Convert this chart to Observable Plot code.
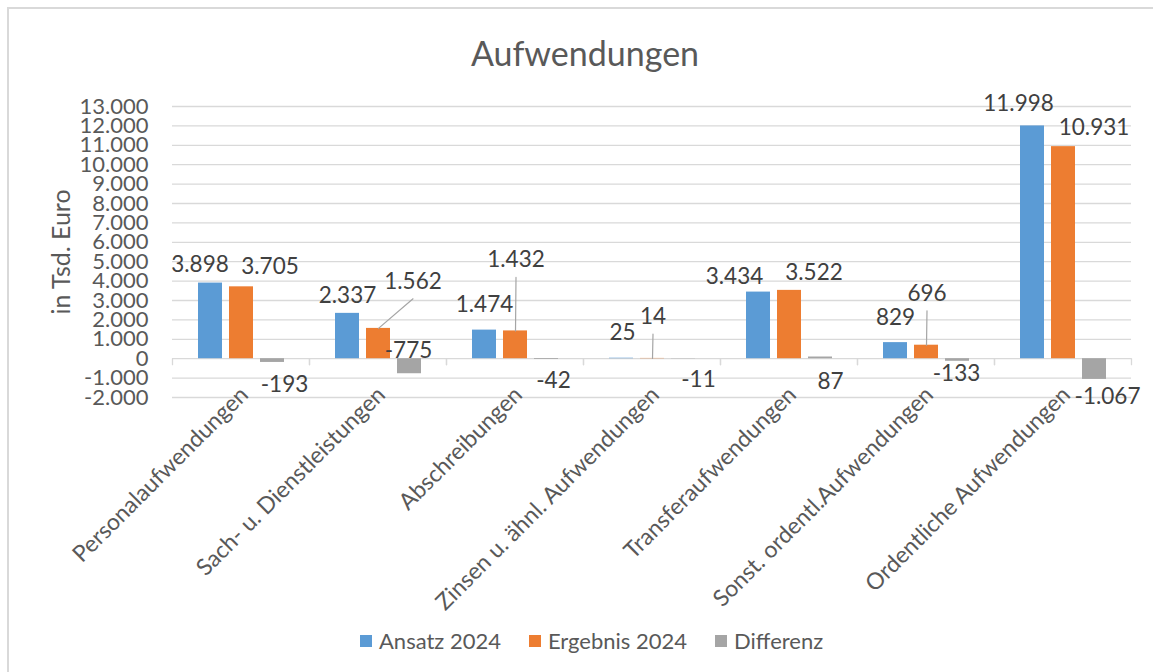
<!DOCTYPE html>
<html><head><meta charset="utf-8">
<script src="https://cdn.jsdelivr.net/npm/d3@7"></script>
<script src="https://cdn.jsdelivr.net/npm/@observablehq/plot@0.6"></script>
<style>
body{margin:0;background:#fff;font-family:Lato,sans-serif;}
#wrap{position:relative;width:1153px;height:672px;overflow:hidden;background:#fff;}
#frame{position:absolute;left:7px;top:7px;width:1170px;height:700px;border-left:2px solid #d9d9d9;border-top:2px solid #d9d9d9;}
#title{position:absolute;left:0;width:1170px;top:36px;text-align:center;font-size:34px;line-height:34px;color:#595959;}
#ylab{position:absolute;left:60px;top:252px;transform:translate(-50%,-50%) rotate(-90deg);font-size:25px;color:#595959;white-space:nowrap;}
#chart{position:absolute;left:0;top:0;}
#legend{position:absolute;left:360px;top:628px;display:flex;gap:28px;font-size:22px;color:#595959;line-height:26px;}
#legend .item{display:flex;align-items:center;gap:7px;}
#legend .sw{width:12px;height:12px;display:inline-block;}
</style></head>
<body><div id="wrap">
<div id="frame"></div>
<div id="title">Aufwendungen</div>
<div id="chart"></div>
<div id="ylab">in Tsd. Euro</div>
<div id="legend"></div>
</div>
<script>
const categories = ["Personalaufwendungen","Sach- u. Dienstleistungen","Abschreibungen","Zinsen u. ähnl. Aufwendungen","Transferaufwendungen","Sonst. ordentl.Aufwendungen","Ordentliche Aufwendungen"];
const seriesNames = ["Ansatz 2024","Ergebnis 2024","Differenz"];
const ansatz = [3898, 2337, 1474, 25, 3434, 829, 11998];
const ergebnis = [3705, 1562, 1432, 14, 3522, 696, 10931];
const differenz = [-193, -775, -42, -11, 87, -133, -1067];
const colors = ["#5b9bd5","#ed7d31","#a5a5a5"];
const yTicks = d3.range(-2000, 13001, 1000);

// manual data-label nudges (px) as placed in the original chart
const ansatzNudge = [[-10.5,-10.7],[0,-10],[0,-18.6],[1,-18],[-24,-8],[0,-17.8],[-14,-15.4]];
const ergebnisNudge = [[28.5,-12.8],[34.5,-39.6],[0.5,-63.5],[0.5,-34.3],[24.5,-10.3],[0.5,-44.4],[30.5,-12]];
const differenzNudge = [[12,30],[-1,-16],[7,28.3],[15,27.9],[10,32],[-1,19.5],[13,24.7]];
const ergebnisLeaders = [1, 2, 3, 5];

const de = d3.formatLocale({decimal: ",", thousands: ".", grouping: [3], currency: ["", "€"], minus: "-"});
const fmt = de.format(",d");

const seriesValues = [ansatz, ergebnis, differenz];
const nudges = [ansatzNudge, ergebnisNudge, differenzNudge];
const rows = [];
categories.forEach((c, i) => seriesValues.forEach((vals, s) => {
  rows.push({cat: c, series: seriesNames[s], value: vals[i], nudge: nudges[s][i], leader: s === 1 && ergebnisLeaders.includes(i)});
}));

const lineShape = {draw(context, l) { context.moveTo(0, 0); context.lineTo(0, -l); }};

const labelMarks = rows.map(r => Plot.text([r], {
  fx: "cat", x: "series", y: "value", text: d => fmt(d.value),
  textAnchor: "middle", lineAnchor: "bottom", dx: r.nudge[0], dy: r.nudge[1],
  fill: "#404040", fontSize: 22.5
}));
const leaderMarks = rows.filter(r => r.leader).map(r => {
  const ex = r.nudge[0], ey = r.nudge[1] + 10;
  return Plot.vector([r], {
    fx: "cat", x: "series", y: "value", anchor: "start",
    length: Math.hypot(ex, ey), rotate: Math.atan2(ex, -ey) * 180 / Math.PI,
    stroke: "#a5a5a5", strokeWidth: 1.2, shape: lineShape
  });
});

const plot = Plot.plot({
  width: 1153, height: 600,
  marginTop: 106, marginBottom: 203, marginLeft: 172, marginRight: 22,
  style: {fontFamily: "Lato, sans-serif", fontSize: "22px", color: "#595959", background: "transparent", overflow: "visible"},
  fx: {domain: categories, padding: 0, axis: null},
  x: {domain: seriesNames, paddingInner: 0.23, paddingOuter: 0.82, axis: null},
  y: {domain: [-2000, 13000], axis: null},
  color: {domain: seriesNames, range: colors},
  marks: [
    Plot.gridY({ticks: yTicks, stroke: "#d9d9d9", strokeOpacity: 1, strokeWidth: 1.3}),
    Plot.axisY({ticks: yTicks, tickFormat: fmt, tickSize: 0, tickPadding: 24, fontSize: 22, fill: "#595959", label: null}),
    Plot.vector([0], {y: d => d, frameAnchor: "left", anchor: "start", length: 6, rotate: 180, stroke: "#d9d9d9", strokeWidth: 1.3, shape: lineShape}),
    Plot.vector([0], {y: d => d, frameAnchor: "right", anchor: "start", length: 6, rotate: 180, stroke: "#d9d9d9", strokeWidth: 1.3, shape: lineShape}),
    Plot.barY(rows, {fx: "cat", x: "series", y: "value", fill: "series"}),
    ...leaderMarks,
    ...labelMarks,
    Plot.text(categories, {fx: d => d, text: d => d, frameAnchor: "bottom", rotate: -45, textAnchor: "end", lineAnchor: "top", dx: -3, dy: -13, fill: "#595959", fontSize: 23})
  ]
});
document.getElementById("chart").appendChild(plot);

const legend = document.getElementById("legend");
seriesNames.forEach((n, i) => {
  const it = document.createElement("div"); it.className = "item";
  const sw = document.createElement("span"); sw.className = "sw"; sw.style.background = colors[i];
  const tx = document.createElement("span"); tx.textContent = n;
  it.appendChild(sw); it.appendChild(tx); legend.appendChild(it);
});
</script>
</body></html>
